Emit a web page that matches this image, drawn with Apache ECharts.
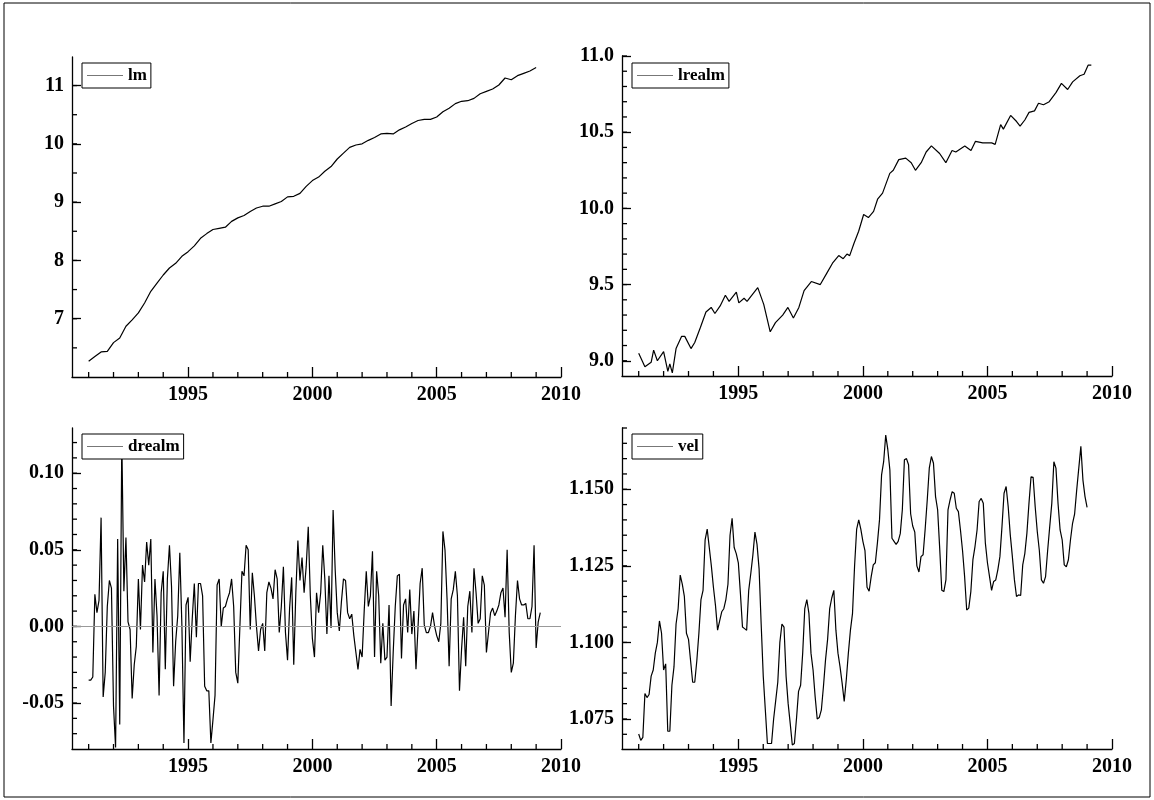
<!DOCTYPE html>
<html>
<head>
<meta charset="utf-8">
<script src="https://cdn.jsdelivr.net/npm/echarts@6/dist/echarts.min.js"></script>
<style>
html,body{margin:0;padding:0;background:#fff;}
#chart{width:1154px;height:800px;}
</style>
</head>
<body>
<div id="chart"></div>
<script>
// monthly series start 1991:1, quarterly lm start 1991 Q1
var startYear = 1991;

var lm = [6.27,6.35,6.43,6.44,6.59,6.67,6.87,6.98,7.10,7.27,7.47,7.61,7.75,7.87,7.95,8.07,8.15,8.25,8.38,8.46,
  8.53,8.55,8.57,8.67,8.73,8.77,8.84,8.90,8.93,8.93,8.97,9.01,9.09,9.10,9.15,9.27,9.37,9.43,9.53,9.61,
  9.74,9.84,9.94,9.98,10.00,10.06,10.11,10.17,10.18,10.17,10.24,10.29,10.35,10.40,10.42,10.42,10.46,10.55,10.61,10.69,
  10.73,10.74,10.78,10.86,10.90,10.94,11.01,11.13,11.10,11.17,11.21,11.25,11.31];

var lrealmDates = [1991.00,1991.25,1991.50,1991.60,1991.75,1992.00,1992.17,1992.25,1992.35,1992.50,1992.72,1992.85,1993.10,1993.25,1993.48,1993.70,1993.77,1993.91,1994.06,1994.27,
  1994.48,1994.63,1994.92,1995.02,1995.23,1995.35,1995.49,1995.78,1996.02,1996.28,1996.49,1996.78,1996.99,1997.21,1997.43,1997.64,1997.93,1998.29,1998.57,1998.78,
  1999.03,1999.21,1999.36,1999.47,1999.64,1999.83,2000.03,2000.22,2000.43,2000.59,2000.79,2001.08,2001.22,2001.44,2001.72,2001.94,2002.11,2002.34,2002.54,2002.62,
  2002.75,2003.08,2003.33,2003.58,2003.73,2004.09,2004.34,2004.52,2004.81,2005.17,2005.31,2005.53,2005.64,2005.93,2006.17,2006.31,2006.50,2006.67,2006.89,2007.05,
  2007.25,2007.48,2007.75,2007.97,2008.22,2008.42,2008.71,2008.88,2009.04,2009.10,2009.17];
var lrealm = [9.05,8.96,8.99,9.07,9.00,9.06,8.93,8.98,8.92,9.08,9.16,9.16,9.08,9.12,9.22,9.32,9.31,9.35,9.31,9.36,
  9.43,9.39,9.45,9.38,9.41,9.39,9.42,9.48,9.37,9.19,9.25,9.30,9.35,9.28,9.35,9.46,9.52,9.50,9.58,9.64,
  9.69,9.67,9.70,9.69,9.77,9.85,9.96,9.94,9.98,10.06,10.10,10.23,10.25,10.32,10.33,10.30,10.25,10.30,10.37,10.36,
  10.41,10.36,10.30,10.38,10.37,10.41,10.38,10.44,10.43,10.43,10.42,10.55,10.52,10.61,10.57,10.54,10.58,10.63,10.64,10.69,
  10.68,10.70,10.76,10.82,10.78,10.83,10.87,10.88,10.94,10.93,10.94];

var drealm = [-0.035,-0.035,-0.033,0.021,0.009,0.017,0.071,-0.046,-0.030,0.013,0.030,0.025,-0.052,-0.079,0.057,-0.064,0.123,0.023,0.058,0.003,
  -0.002,-0.047,-0.025,-0.013,0.031,-0.002,0.040,0.029,0.055,0.040,0.057,-0.017,0.031,0.007,-0.045,0.022,0.036,-0.028,0.031,0.053,
  0.026,-0.039,-0.010,0.007,0.048,0.001,-0.076,0.014,0.019,-0.023,0.005,0.028,-0.007,0.028,0.028,0.020,-0.039,-0.042,-0.042,-0.076,
  -0.061,-0.045,0.027,0.031,0.000,0.012,0.013,0.018,0.022,0.031,0.013,-0.030,-0.037,0.000,0.036,0.033,0.053,0.050,-0.002,0.035,
  0.020,0.000,-0.016,-0.002,0.002,-0.016,0.022,0.029,0.025,0.018,0.037,0.031,-0.004,0.013,0.039,-0.004,-0.022,0.012,0.032,-0.025,
  0.022,0.056,0.030,0.045,0.022,0.039,0.065,0.020,-0.008,-0.020,0.022,0.009,0.022,0.053,0.031,-0.005,0.033,-0.001,0.076,0.037,
  0.009,-0.003,0.016,0.031,0.030,0.009,0.005,0.008,-0.006,-0.017,-0.028,-0.015,-0.020,0.010,0.036,0.013,0.020,0.049,-0.020,0.036,
  0.020,-0.024,0.002,-0.022,-0.020,0.014,-0.052,-0.017,0.013,0.033,0.034,-0.021,0.014,0.018,-0.004,0.024,-0.005,0.010,-0.028,0.000,
  0.028,0.038,0.001,-0.004,-0.004,0.000,0.009,0.000,-0.006,-0.010,0.002,0.062,0.050,0.018,-0.026,0.018,0.024,0.036,0.020,-0.042,
  -0.015,0.006,-0.026,0.013,0.023,-0.004,0.038,0.022,0.002,0.005,0.033,0.027,-0.017,-0.004,0.009,0.012,0.007,0.010,0.014,0.022,
  0.025,0.006,0.050,-0.004,-0.030,-0.024,0.007,0.030,0.018,0.014,0.014,0.015,0.005,0.005,0.013,0.053,-0.014,0.003,0.009];

var vel = [1.0701,1.068,1.069,1.0833,1.082,1.083,1.089,1.091,1.0965,1.100,1.107,1.103,1.091,1.093,1.071,1.071,1.086,1.092,1.106,1.111,
  1.122,1.119,1.115,1.103,1.101,1.094,1.087,1.087,1.094,1.103,1.114,1.117,1.1335,1.137,1.131,1.125,1.118,1.112,1.104,1.107,
  1.110,1.111,1.114,1.119,1.135,1.1405,1.131,1.129,1.126,1.116,1.105,1.1045,1.104,1.117,1.1225,1.1285,1.136,1.132,1.124,1.106,
  1.089,1.078,1.067,1.067,1.067,1.075,1.081,1.087,1.100,1.106,1.105,1.089,1.080,1.0735,1.0665,1.067,1.075,1.084,1.086,1.0965,
  1.111,1.114,1.1095,1.0965,1.091,1.0823,1.075,1.0755,1.078,1.0856,1.0943,1.101,1.111,1.1145,1.117,1.104,1.0965,1.092,1.0867,1.0807,
  1.0878,1.0965,1.104,1.1095,1.125,1.137,1.140,1.137,1.133,1.130,1.118,1.1167,1.1215,1.1253,1.126,1.1325,1.140,1.1547,1.159,1.1677,
  1.163,1.1563,1.134,1.133,1.132,1.133,1.1355,1.1433,1.1596,1.160,1.158,1.142,1.138,1.136,1.125,1.123,1.128,1.1286,1.137,1.1465,
  1.157,1.1607,1.1585,1.1476,1.1433,1.1307,1.117,1.1166,1.1204,1.1433,1.1465,1.1492,1.1487,1.1438,1.1427,1.1367,1.130,1.1215,1.1106,1.1112,
  1.1166,1.127,1.1313,1.1367,1.146,1.147,1.1454,1.1324,1.126,1.1215,1.117,1.1199,1.1204,1.1237,1.128,1.1378,1.1487,1.1509,1.1443,1.1351,
  1.128,1.1204,1.115,1.1155,1.1153,1.1253,1.129,1.1356,1.1454,1.1541,1.1539,1.1443,1.1362,1.130,1.1204,1.1193,1.1215,1.130,1.1378,1.1454,
  1.159,1.1569,1.1454,1.1367,1.1335,1.1253,1.1247,1.127,1.1335,1.1389,1.142,1.1498,1.1569,1.164,1.153,1.1476,1.1441];

var xLabels = [1995, 2000, 2005, 2010];
var xMinor = [1991,1992,1993,1994,1996,1997,1998,1999,2001,2002,2003,2004,2006,2007,2008,2009];
var xMin = 1990.33, xMax = 2010;

function range(a, b, step) {
	var out = [];
	for (var v = a; v <= b + step / 2; v += step) out.push(Math.round(v * 10000) / 10000);
	return out;
}
function withDates(vals, step) {
	return vals.map(function (v, i) { return [startYear + i * step, v]; });
}

var font = 'Liberation Serif';
var panels = [
	{ name: 'lm', data: withDates(lm, 0.25), ymin: 6.0, ymax: 11.49, labels: [7, 8, 9, 10, 11], minor: range(6.5, 11.0, 0.5), dec: 0,
	  grid: { left: 72, right: 593, top: 57, bottom: 423 }, legend: { left: 82, top: 63 } },
	{ name: 'lrealm', data: lrealmDates.map(function (d, i) { return [d, lrealm[i]]; }), ymin: 8.9, ymax: 11.0, labels: [9.0, 9.5, 10.0, 10.5, 11.0], minor: range(9.0, 11.0, 0.1), dec: 1,
	  grid: { left: 622, right: 42, top: 56, bottom: 424 }, legend: { left: 632, top: 63 } },
	{ name: 'drealm', data: withDates(drealm, 1 / 12), ymin: -0.08, ymax: 0.1295, labels: [-0.05, 0, 0.05, 0.1], minor: range(-0.07, 0.12, 0.01), dec: 2, zero: true,
	  grid: { left: 72, right: 593, top: 428, bottom: 51 }, legend: { left: 82, top: 434 } },
	{ name: 'vel', data: withDates(vel, 1 / 12), ymin: 1.0652, ymax: 1.170, labels: [1.075, 1.1, 1.125, 1.15], minor: range(1.07, 1.17, 0.005), dec: 3,
	  grid: { left: 622, right: 42, top: 428, bottom: 51 }, legend: { left: 632, top: 434 } }
];

var option = { animation: false, backgroundColor: '#fff', grid: [], xAxis: [], yAxis: [], series: [], legend: [],
	graphic: [{ type: 'rect', shape: { x: 4, y: 3, width: 1146, height: 794 }, style: { fill: 'none', stroke: '#000', lineWidth: 1 } }] };

// short tick drawn at a data point, pointing into the plot (dx,dy in pixels)
function tickSeries(i, data, dx, dy) {
	return { type: 'custom', xAxisIndex: i, yAxisIndex: i, data: data, clip: false, silent: true, z: 4,
		renderItem: function (params, api) {
			var p = api.coord([api.value(0), api.value(1)]);
			return { type: 'line', shape: { x1: p[0], y1: p[1], x2: p[0] + dx, y2: p[1] + dy },
				style: { stroke: '#000', lineWidth: 1.3 } };
		} };
}

panels.forEach(function (p, i) {
	option.grid.push(p.grid);
	var lbl = { fontFamily: font, fontWeight: 'bold', fontSize: 20, color: '#000' };
	option.xAxis.push({ type: 'value', gridIndex: i, position: 'bottom', min: xMin, max: xMax,
		axisLine: { onZero: false, lineStyle: { color: '#000', width: 1.3 } },
		axisTick: { inside: true, length: 10, customValues: xLabels, lineStyle: { color: '#000', width: 1.3 } },
		axisLabel: Object.assign({ customValues: xLabels, margin: 8, formatter: function (v) { return String(Math.round(v)); } }, lbl),
		splitLine: { show: false } });
	option.yAxis.push({ type: 'value', gridIndex: i, position: 'left', min: p.ymin, max: p.ymax,
		axisLine: { show: true, onZero: false, lineStyle: { color: '#000', width: 1.3 } },
		axisTick: { show: true, inside: true, length: 9, customValues: p.labels, lineStyle: { color: '#000', width: 1.3 } },
		axisLabel: Object.assign({ customValues: p.labels, margin: 8, formatter: function (v) { return (+v).toFixed(p.dec); } }, lbl),
		splitLine: { show: false } });

	var s = { name: p.name, type: 'line', xAxisIndex: i, yAxisIndex: i, data: p.data,
		showSymbol: false, symbol: 'none', lineStyle: { color: '#000', width: 1.2 }, itemStyle: { color: '#000' }, z: 3 };
	if (p.zero) {
		s.markLine = { silent: true, symbol: 'none', label: { show: false }, lineStyle: { color: '#999', type: 'solid', width: 1.2 }, data: [{ yAxis: 0 }] };
	}
	option.series.push(s);
	option.series.push(tickSeries(i, xMinor.map(function (v) { return [v, p.ymin]; }), 0, -5));
	option.series.push(tickSeries(i, p.minor.map(function (v) { return [xMin, v]; }), 5, 0));

	option.legend.push({ data: [p.name], left: p.legend.left, top: p.legend.top, orient: 'vertical',
		borderColor: '#000', borderWidth: 1, borderRadius: 0, padding: [4, 4, 4, 5], backgroundColor: '#fff',
		icon: 'rect', itemWidth: 36, itemHeight: 1, itemGap: 0, itemStyle: { color: '#777' },
		textStyle: { fontFamily: font, fontWeight: 'bold', fontSize: 17, color: '#000', padding: [0, 0, 0, 0] } });
});

var chart = echarts.init(document.getElementById('chart'));
chart.setOption(option);
</script>
</body>
</html>
